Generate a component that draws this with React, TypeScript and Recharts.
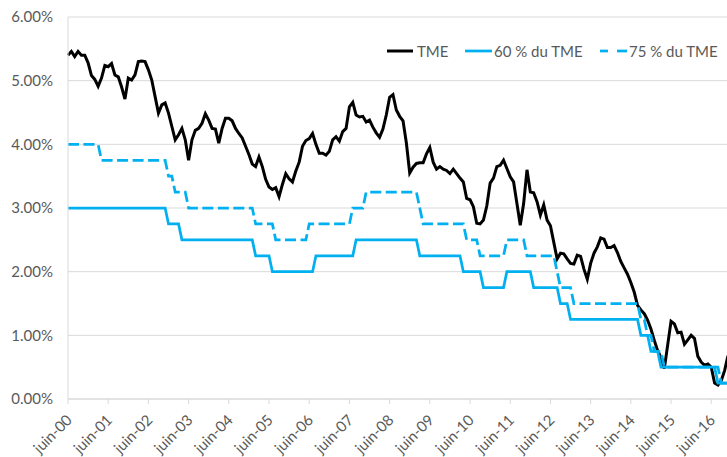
import { CartesianGrid, Line, LineChart, XAxis, YAxis } from "recharts";

const FONT = "Lato, 'Open Sans', sans-serif";
const TEXT_COLOR = "#595959";
const GRID_COLOR = "#d9d9d9";
const TME_COLOR = "#000000";
const BLUE = "#00b0f0";

const MONTHS = ["janv.", "févr.", "mars", "avr.", "mai", "juin", "juil.", "août", "sept.", "oct.", "nov.", "déc."];
const START_YEAR = 2000;
const START_MONTH = 5; // juin

// TME mensuel, en %, de juin-00 à nov-16 (une ligne = juin..mai)
const TME = [
  5.40, 5.46, 5.38, 5.46, 5.40, 5.40, 5.28, 5.08, 5.02, 4.91, 5.04, 5.24,
  5.22, 5.27, 5.09, 5.06, 4.90, 4.71, 5.04, 5.01, 5.09, 5.30, 5.31, 5.30,
  5.17, 5.01, 4.75, 4.49, 4.62, 4.65, 4.49, 4.28, 4.07, 4.15, 4.25, 4.07,
  3.75, 4.07, 4.22, 4.25, 4.33, 4.48, 4.38, 4.25, 4.24, 4.02, 4.25, 4.41,
  4.41, 4.37, 4.25, 4.17, 4.10, 3.97, 3.84, 3.69, 3.65, 3.80, 3.65, 3.45,
  3.33, 3.29, 3.32, 3.18, 3.37, 3.54, 3.46, 3.41, 3.58, 3.72, 3.97, 4.06,
  4.09, 4.17, 4.00, 3.86, 3.86, 3.83, 3.89, 4.07, 4.12, 4.05, 4.20, 4.25,
  4.59, 4.66, 4.46, 4.43, 4.44, 4.35, 4.38, 4.27, 4.18, 4.11, 4.24, 4.46,
  4.74, 4.78, 4.54, 4.44, 4.37, 4.02, 3.55, 3.64, 3.70, 3.71, 3.71, 3.85,
  3.95, 3.72, 3.61, 3.65, 3.61, 3.59, 3.54, 3.61, 3.54, 3.47, 3.41, 3.15,
  3.13, 3.02, 2.76, 2.75, 2.81, 3.03, 3.39, 3.47, 3.65, 3.67, 3.75, 3.62,
  3.49, 3.41, 3.07, 2.73, 3.07, 3.60, 3.25, 3.24, 3.10, 2.89, 3.05, 2.81,
  2.72, 2.46, 2.20, 2.29, 2.28, 2.20, 2.13, 2.12, 2.26, 2.24, 2.04, 1.88,
  2.13, 2.29, 2.39, 2.53, 2.51, 2.38, 2.38, 2.41, 2.30, 2.16, 2.06, 1.96,
  1.83, 1.68, 1.47, 1.40, 1.34, 1.24, 1.10, 0.92, 0.76, 0.65, 0.48, 0.85,
  1.22, 1.18, 1.04, 1.05, 0.86, 0.93, 1.00, 0.95, 0.67, 0.58, 0.53, 0.55,
  0.50, 0.25, 0.22, 0.29, 0.45, 0.68,
];

const TME_60 = [
  3.00, 3.00, 3.00, 3.00, 3.00, 3.00, 3.00, 3.00, 3.00, 3.00, 3.00, 3.00,
  3.00, 3.00, 3.00, 3.00, 3.00, 3.00, 3.00, 3.00, 3.00, 3.00, 3.00, 3.00,
  3.00, 3.00, 3.00, 3.00, 3.00, 3.00, 2.75, 2.75, 2.75, 2.75, 2.50, 2.50,
  2.50, 2.50, 2.50, 2.50, 2.50, 2.50, 2.50, 2.50, 2.50, 2.50, 2.50, 2.50,
  2.50, 2.50, 2.50, 2.50, 2.50, 2.50, 2.50, 2.50, 2.25, 2.25, 2.25, 2.25,
  2.25, 2.00, 2.00, 2.00, 2.00, 2.00, 2.00, 2.00, 2.00, 2.00, 2.00, 2.00,
  2.00, 2.00, 2.25, 2.25, 2.25, 2.25, 2.25, 2.25, 2.25, 2.25, 2.25, 2.25,
  2.25, 2.25, 2.50, 2.50, 2.50, 2.50, 2.50, 2.50, 2.50, 2.50, 2.50, 2.50,
  2.50, 2.50, 2.50, 2.50, 2.50, 2.50, 2.50, 2.50, 2.50, 2.25, 2.25, 2.25,
  2.25, 2.25, 2.25, 2.25, 2.25, 2.25, 2.25, 2.25, 2.25, 2.25, 2.00, 2.00,
  2.00, 2.00, 2.00, 2.00, 1.75, 1.75, 1.75, 1.75, 1.75, 1.75, 1.75, 2.00,
  2.00, 2.00, 2.00, 2.00, 2.00, 2.00, 2.00, 1.75, 1.75, 1.75, 1.75, 1.75,
  1.75, 1.75, 1.75, 1.50, 1.50, 1.50, 1.25, 1.25, 1.25, 1.25, 1.25, 1.25,
  1.25, 1.25, 1.25, 1.25, 1.25, 1.25, 1.25, 1.25, 1.25, 1.25, 1.25, 1.25,
  1.25, 1.25, 1.25, 1.00, 1.00, 1.00, 0.75, 0.75, 0.75, 0.50, 0.50, 0.50,
  0.50, 0.50, 0.50, 0.50, 0.50, 0.50, 0.50, 0.50, 0.50, 0.50, 0.50, 0.50,
  0.50, 0.50, 0.25, 0.25, 0.25, 0.25,
];

const TME_75 = [
  4.00, 4.00, 4.00, 4.00, 4.00, 4.00, 4.00, 4.00, 4.00, 4.00, 3.75, 3.75,
  3.75, 3.75, 3.75, 3.75, 3.75, 3.75, 3.75, 3.75, 3.75, 3.75, 3.75, 3.75,
  3.75, 3.75, 3.75, 3.75, 3.75, 3.75, 3.50, 3.50, 3.25, 3.25, 3.25, 3.25,
  3.00, 3.00, 3.00, 3.00, 3.00, 3.00, 3.00, 3.00, 3.00, 3.00, 3.00, 3.00,
  3.00, 3.00, 3.00, 3.00, 3.00, 3.00, 3.00, 3.00, 2.75, 2.75, 2.75, 2.75,
  2.75, 2.75, 2.50, 2.50, 2.50, 2.50, 2.50, 2.50, 2.50, 2.50, 2.50, 2.50,
  2.75, 2.75, 2.75, 2.75, 2.75, 2.75, 2.75, 2.75, 2.75, 2.75, 2.75, 2.75,
  2.75, 3.00, 3.00, 3.00, 3.00, 3.25, 3.25, 3.25, 3.25, 3.25, 3.25, 3.25,
  3.25, 3.25, 3.25, 3.25, 3.25, 3.25, 3.25, 3.25, 3.25, 3.00, 2.75, 2.75,
  2.75, 2.75, 2.75, 2.75, 2.75, 2.75, 2.75, 2.75, 2.75, 2.75, 2.75, 2.50,
  2.50, 2.50, 2.50, 2.25, 2.25, 2.25, 2.25, 2.25, 2.25, 2.25, 2.25, 2.50,
  2.50, 2.50, 2.50, 2.50, 2.50, 2.25, 2.25, 2.25, 2.25, 2.25, 2.25, 2.25,
  2.25, 2.25, 2.00, 1.75, 1.75, 1.75, 1.75, 1.50, 1.50, 1.50, 1.50, 1.50,
  1.50, 1.50, 1.50, 1.50, 1.50, 1.50, 1.50, 1.50, 1.50, 1.50, 1.50, 1.50,
  1.50, 1.50, 1.50, 1.25, 1.25, 1.00, 1.00, 0.75, 0.75, 0.75, 0.50, 0.50,
  0.50, 0.50, 0.50, 0.50, 0.50, 0.50, 0.50, 0.50, 0.50, 0.50, 0.50, 0.50,
  0.50, 0.50, 0.50, 0.25, 0.25, 0.25,
];

const Y_TICKS = [0, 1, 2, 3, 4, 5, 6];

const monthLabel = (i: number) => {
  const m = START_MONTH + i;
  const yy = (START_YEAR + Math.floor(m / 12)) % 100;
  return `${MONTHS[m % 12]}-${String(yy).padStart(2, "0")}`;
};

const chartData = TME.map((v, i) => ({
  mois: monthLabel(i),
  tme: v,
  p60: TME_60[i],
  p75: TME_75[i],
}));

const XTick = ({ x, y, payload }: any) => {
  const ax = x + 5;
  const ay = y + 15;
  return (
    <text
      x={ax}
      y={ay}
      transform={`rotate(-45 ${ax} ${ay})`}
      textAnchor="end"
      fill={TEXT_COLOR}
      fontSize={15}
      fontFamily={FONT}
    >
      {payload.value}
    </text>
  );
};

const legendText = {
  position: "absolute" as const,
  top: 42,
  fontFamily: FONT,
  fontSize: 15,
  lineHeight: "18px",
  color: TEXT_COLOR,
  whiteSpace: "nowrap" as const,
};

export default function App() {
  return (
    <div
      style={{
        position: "fixed",
        left: 0,
        top: 0,
        width: 727,
        height: 457,
        overflow: "hidden",
        background: "#fff",
      }}
    >
      <LineChart
        width={730}
        height={457}
        data={chartData}
        margin={{ top: 17, right: 2, left: 8, bottom: 8 }}
      >
        <CartesianGrid stroke={GRID_COLOR} vertical={false} />
        <XAxis
          dataKey="mois"
          interval={11}
          tickSize={5}
          tickMargin={2}
          height={50}
          axisLine={{ stroke: GRID_COLOR }}
          tickLine={{ stroke: GRID_COLOR }}
          tick={<XTick />}
        />
        <YAxis
          type="number"
          domain={[0, 6]}
          ticks={Y_TICKS}
          width={60}
          tickSize={0}
          tickMargin={15}
          axisLine={{ stroke: GRID_COLOR }}
          tickLine={false}
          tickFormatter={(v: number) => `${v.toFixed(2)}%`}
          tick={{ fill: TEXT_COLOR, fontSize: 15, fontFamily: FONT }}
        />
        <Line
          type="linear"
          dataKey="tme"
          stroke={TME_COLOR}
          strokeWidth={3}
          dot={false}
          isAnimationActive={false}
        />
        <Line
          type="linear"
          dataKey="p60"
          stroke={BLUE}
          strokeWidth={2.75}
          dot={false}
          isAnimationActive={false}
        />
        <Line
          type="linear"
          dataKey="p75"
          stroke={BLUE}
          strokeWidth={2.75}
          strokeDasharray="11 4.5"
          dot={false}
          isAnimationActive={false}
        />
      </LineChart>

      {/* légende dessinée à la main, comme dans Excel */}
      <svg style={{ position: "absolute", left: 0, top: 0 }} width={727} height={70}>
        <line x1={387} x2={413} y1={51} y2={51} stroke={TME_COLOR} strokeWidth={3} />
        <line x1={465} x2={492} y1={51} y2={51} stroke={BLUE} strokeWidth={2.75} />
        <line x1={600} x2={608} y1={51} y2={51} stroke={BLUE} strokeWidth={2.75} />
        <line x1={617} x2={627} y1={51} y2={51} stroke={BLUE} strokeWidth={2.75} />
      </svg>
      <span style={{ ...legendText, left: 417 }}>TME</span>
      <span style={{ ...legendText, left: 494 }}>60 % du TME</span>
      <span style={{ ...legendText, left: 629 }}>75 % du TME</span>
    </div>
  );
}
